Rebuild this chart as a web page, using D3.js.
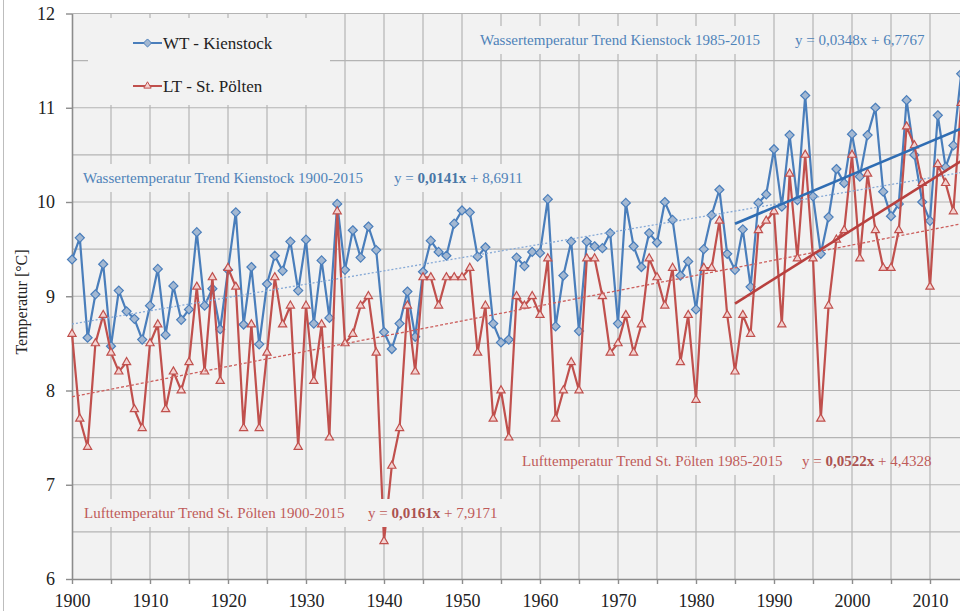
<!DOCTYPE html>
<html>
<head>
<meta charset="utf-8">
<script src="https://cdn.jsdelivr.net/npm/d3@7"></script>
<style>
    body { margin: 0; background: #fff; }
    svg { display: block; font-family: "Liberation Serif", "Times New Roman", serif; }
</style>
</head>
<body>
<svg id="temp-plot"></svg>
<script>
// years 1900..2014 (2015 lies outside the visible crop)
const years = d3.range(1900, 2015);

// WT - Kienstock (water temperature, °C)
const wtKienstock = [
    9.39, 9.62, 8.56, 9.02, 9.34, 8.47, 9.06, 8.84, 8.76, 8.54,
    8.90, 9.29, 8.59, 9.11, 8.75, 8.86, 9.68, 8.90, 9.08, 8.65,
    9.28, 9.89, 8.70, 9.31, 8.49, 9.13, 9.43, 9.27, 9.58, 9.06,
    9.60, 8.71, 9.38, 8.77, 9.98, 9.28, 9.70, 9.41, 9.74, 9.49,
    8.62, 8.44, 8.71, 9.05, 8.57, 9.26, 9.59, 9.47, 9.43, 9.77,
    9.91, 9.89, 9.42, 9.52, 8.71, 8.51, 8.54, 9.41, 9.32, 9.47,
    9.46, 10.03, 8.68, 9.22, 9.58, 8.63, 9.58, 9.53, 9.51, 9.67,
    8.71, 9.99, 9.53, 9.31, 9.67, 9.57, 10.00, 9.81, 9.22, 9.37,
    8.86, 9.50, 9.86, 10.13, 9.45, 9.28, 9.71, 9.10, 9.99, 10.08,
    10.56, 9.95, 10.71, 10.02, 11.13, 10.06, 9.45, 9.84, 10.35, 10.20,
    10.72, 10.27, 10.71, 11.00, 10.11, 9.85, 9.98, 11.08, 10.50, 10.00,
    9.80, 10.92, 10.37, 10.60, 11.36
];

// LT - St. Pölten (air temperature, °C)
const ltStPoelten = [
    8.6, 7.7, 7.4, 8.5, 8.8, 8.4, 8.2, 8.3, 7.8, 7.6,
    8.5, 8.7, 7.8, 8.2, 8.0, 8.3, 9.1, 8.2, 9.2, 8.1,
    9.3, 9.1, 7.6, 8.7, 7.6, 8.4, 9.2, 8.7, 8.9, 7.4,
    8.9, 8.1, 8.7, 7.5, 9.9, 8.5, 8.6, 8.9, 9.0, 8.4,
    6.4, 7.2, 7.6, 8.9, 8.2, 9.2, 9.2, 8.9, 9.2, 9.2,
    9.2, 9.3, 8.4, 8.9, 7.7, 8.0, 7.5, 9.0, 8.9, 9.0,
    8.8, 9.4, 7.7, 8.0, 8.3, 8.0, 9.4, 9.4, 9.0, 8.4,
    8.5, 8.8, 8.4, 8.7, 9.4, 9.2, 8.9, 9.3, 8.3, 8.8,
    7.9, 9.3, 9.3, 9.8, 8.8, 8.2, 8.8, 8.6, 9.7, 9.8,
    9.9, 8.7, 10.3, 9.4, 10.5, 9.4, 7.7, 8.9, 9.6, 9.7,
    10.5, 9.4, 10.3, 9.7, 9.3, 9.3, 9.7, 10.8, 10.6, 10.2,
    9.1, 10.4, 10.2, 9.9, 11.05
];

// linear trends as printed in the chart (x = year - 1899)
const trendSlopes = [0.0141, 0.0161, 0.0348, 0.0522];
const trendIntercepts = [8.6911, 7.9171, 6.7767, 4.4328];
const trendFrom = [1900, 1900, 1985, 1985];
const trendTo = [2014, 2014, 2014, 2014];

const yTicks = [6, 7, 8, 9, 10, 11, 12];
const xTicks = d3.range(1900, 2020, 10);

const W = 960, H = 611;
const blue = "#4a7ebb", red = "#c0504d";
const blueText = "#4f83b9", redText = "#bf5b59";
const serif = '"Liberation Serif", "Times New Roman", serif';

const svg = d3.select("#temp-plot")
    .attr("width", W)
    .attr("height", H);

// chart frame edge visible at the left
svg.append("line")
    .attr("x1", 3.5).attr("x2", 3.5)
    .attr("y1", 0).attr("y2", H)
    .attr("stroke", "#bdbdbd");

const x = d3.scaleLinear()
    .domain([1900, 2020])
    .range([72, 1008]);

const y = d3.scaleLinear()
    .domain([6, 12])
    .range([579, 13.5]);

// plot background
svg.append("rect")
    .attr("x", x(1900))
    .attr("y", y(12))
    .attr("width", x(2020) - x(1900))
    .attr("height", y(6) - y(12))
    .attr("fill", "#f2f2f2");

// gridlines
svg.append("g")
    .selectAll("line")
    .data(d3.range(6.5, 12.01, 0.5))
    .enter().append("line")
    .attr("x1", x(1900)).attr("x2", x(2020))
    .attr("y1", d => y(d)).attr("y2", d => y(d))
    .attr("stroke", "#b4b4b4")
    .attr("stroke-width", 1.2);

svg.append("g")
    .selectAll("line")
    .data(d3.range(1905, 2020, 5))
    .enter().append("line")
    .attr("x1", d => x(d)).attr("x2", d => x(d))
    .attr("y1", y(12)).attr("y2", y(6))
    .attr("stroke", "#b4b4b4")
    .attr("stroke-width", 1.2);

// axes
const yAxis = svg.append("g")
    .attr("transform", `translate(${x(1900)},0)`)
    .call(d3.axisLeft(y).tickValues(yTicks).tickFormat(d3.format("d"))
        .tickSize(6).tickSizeOuter(0).tickPadding(11));

const xAxis = svg.append("g")
    .attr("transform", `translate(0,${y(6)})`)
    .call(d3.axisBottom(x).tickValues(d3.range(1900, 2020, 5)).tickSize(5).tickSizeOuter(0).tickPadding(10)
        .tickFormat(d => xTicks.includes(d) ? d : ""));

[yAxis, xAxis].forEach(a => {
    a.attr("font-family", serif).attr("font-size", 18);
    a.select(".domain").attr("stroke", "#8c8c8c").attr("stroke-width", 1.6);
    a.selectAll(".tick line").attr("stroke", "#8c8c8c").attr("stroke-width", 1.4);
    a.selectAll(".tick text").attr("fill", "#222");
});

svg.append("text")
    .attr("transform", "rotate(-90)")
    .attr("x", -302)
    .attr("y", 27)
    .attr("text-anchor", "middle")
    .attr("fill", "#222")
    .style("font-size", "16px")
    .text("Temperatur [°C]");

// series
const series = [
    { values: wtKienstock, color: blue, fill: "#a3b8d2", marker: d3.symbolDiamond2, size: 52 },
    { values: ltStPoelten, color: red, fill: "#f3d2d1", marker: d3.symbolTriangle2, size: 48 }
];

const line = d3.line()
    .x((d, i) => x(years[i]))
    .y(d => y(d));

series.forEach(s => {
    svg.append("path")
        .attr("d", line(s.values))
        .attr("fill", "none")
        .attr("stroke", s.color)
        .attr("stroke-width", 2.2)
        .attr("stroke-linejoin", "round");

    svg.append("g")
        .selectAll("path")
        .data(s.values)
        .enter().append("path")
        .attr("transform", (d, i) => `translate(${x(years[i])},${y(d)})`)
        .attr("d", d3.symbol().type(s.marker).size(s.size))
        .attr("fill", s.fill)
        .attr("stroke", s.color)
        .attr("stroke-width", 1.2);
});

// trend lines, drawn over the series
const trendStyle = [
    { color: "#86a9d6", width: 1.3, dash: "2,2" },
    { color: "#cc5f5d", width: 1.3, dash: "3,2" },
    { color: "#2f6db3", width: 2.6, dash: null },
    { color: "#b8403e", width: 2.6, dash: null }
];

const trendLine = d3.line()
    .x(d => x(d[0]))
    .y(d => y(d[1]));

trendSlopes.forEach((s, i) => {
    const pts = [trendFrom[i], trendTo[i]].map(yr => [yr, trendIntercepts[i] + s * (yr - 1899)]);
    svg.append("path")
        .attr("d", trendLine(pts))
        .attr("fill", "none")
        .attr("stroke", trendStyle[i].color)
        .attr("stroke-width", trendStyle[i].width)
        .attr("stroke-dasharray", trendStyle[i].dash);
});

// annotation labels
const labels = [
    { text: "Wassertemperatur Trend Kienstock 1985-2015", x: 480, y: 45, color: blueText, box: true },
    { eq: ["y = ", "0,0348x", " + 6,7767"], bold: false, x: 795, y: 45, color: blueText, box: false },
    { text: "Wassertemperatur Trend Kienstock 1900-2015", x: 83, y: 183, color: blueText, box: true },
    { eq: ["y = ", "0,0141x", " + 8,6911"], bold: true, x: 394, y: 183, color: blueText, box: true },
    { text: "Lufttemperatur Trend St. Pölten 1985-2015", x: 522, y: 466, color: redText, box: true },
    { eq: ["y = ", "0,0522x", " + 4,4328"], bold: true, x: 802, y: 466, color: redText, box: false },
    { text: "Lufttemperatur Trend St. Pölten 1900-2015", x: 84, y: 518, color: redText, box: true },
    { eq: ["y = ", "0,0161x", " + 7,9171"], bold: true, x: 368, y: 518, color: redText, box: true }
];

const labelLayer = svg.append("g");

labels.forEach(l => {
    const g = labelLayer.append("g");
    const bg = g.append("rect").attr("fill", "#f2f2f2");
    const t = g.append("text")
        .attr("x", l.x)
        .attr("y", l.y)
        .attr("fill", l.color)
        .style("font-size", "15px");
    if (l.text) {
        t.text(l.text);
    } else {
        t.append("tspan").text(l.eq[0]);
        t.append("tspan").text(l.eq[1])
            .style("font-weight", l.bold ? "bold" : "normal")
            .attr("fill", l.bold ? d3.color(l.color).darker(0.3) : l.color);
        t.append("tspan").text(l.eq[2]);
    }
    if (l.box) {
        const b = t.node().getBBox();
        bg.attr("x", b.x - 7).attr("y", b.y - 6)
            .attr("width", b.width + 14).attr("height", b.height + 12);
    } else {
        bg.remove();
    }
});

// legend
const legend = svg.append("g");
legend.append("rect")
    .attr("x", 88).attr("y", 18)
    .attr("width", 242).attr("height", 87)
    .attr("fill", "#f2f2f2");

const legendNames = ["WT - Kienstock", "LT - St. Pölten"];
legendNames.forEach((name, i) => {
    const ly = 43 + i * 43;
    const s = series[i];
    legend.append("line")
        .attr("x1", 133).attr("x2", 162)
        .attr("y1", ly).attr("y2", ly)
        .attr("stroke", s.color)
        .attr("stroke-width", 2);
    legend.append("path")
        .attr("transform", `translate(147.5,${ly})`)
        .attr("d", d3.symbol().type(s.marker).size(s.size * 0.8))
        .attr("fill", s.fill)
        .attr("stroke", s.color)
        .attr("stroke-width", 1);
    legend.append("text")
        .attr("x", 163)
        .attr("y", ly + 6)
        .attr("fill", "#222")
        .style("font-size", "17px")
        .text(name);
});
</script>
</body>
</html>
